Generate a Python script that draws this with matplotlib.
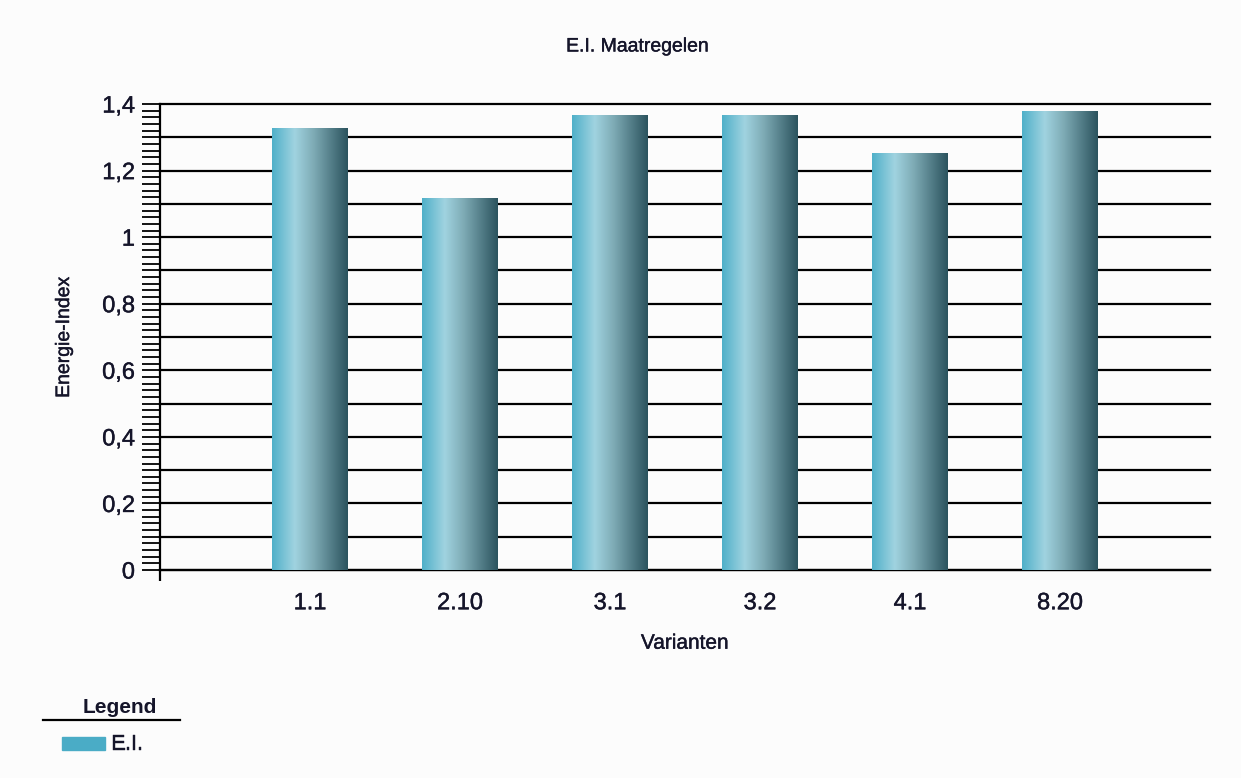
import numpy as np
import matplotlib.pyplot as plt
import matplotlib.patheffects as pe
from matplotlib.colors import LinearSegmentedColormap
from matplotlib.ticker import MultipleLocator, FuncFormatter
from matplotlib.lines import Line2D
from matplotlib.patches import Rectangle

plt.rcParams['font.family'] = ['Liberation Sans', 'DejaVu Sans']

varianten = ["1.1", "2.10", "3.1", "3.2", "4.1", "8.20"]
energie_index = [1.325, 1.115, 1.365, 1.365, 1.25, 1.378]

BG = "#fcfcfc"
TXT = "#15152a"
heavy = [pe.withStroke(linewidth=0.3, foreground=TXT)]
bar_cmap = LinearSegmentedColormap.from_list(
    "cyl", [(0.0, "#4fb0c9"), (0.3, "#a0d3e0"), (0.55, "#7eabb5"), (1.0, "#2b535e")]
)

fig = plt.figure(figsize=(12.41, 7.78), dpi=100, facecolor=BG)
ax = fig.add_axes([0.1289, 0.2673, 0.975 - 0.1289, 0.8663 - 0.2673], facecolor=BG)

x = np.arange(1, len(varianten) + 1)

# horizontal grid every 0.1
for y in np.arange(0, 1.41, 0.1):
    ax.axhline(y, color="black", lw=1.6, zorder=0.5, clip_on=False)

bars = ax.bar(x, energie_index, width=0.5, color="none", edgecolor="none", zorder=2)
grad = np.linspace(0, 1, 256).reshape(1, -1)
for b in bars:
    x0, w, h = b.get_x(), b.get_width(), b.get_height()
    ax.imshow(grad, cmap=bar_cmap, extent=(x0, x0 + w, 0, h),
              aspect="auto", zorder=3, interpolation="bilinear")
ax.set_xlim(0, len(varianten) + 1)
ax.set_ylim(0, 1.4)

for side in ["top", "right"]:
    ax.spines[side].set_visible(False)
ax.spines["left"].set_linewidth(1.6)
ax.spines["bottom"].set_linewidth(1.6)

ax.set_xticks(x)
ax.set_xticklabels(varianten)
ax.set_xticks([0], minor=True)
ax.tick_params(axis="x", which="major", length=0, pad=16, labelsize=17, labelcolor=TXT)
ax.tick_params(axis="x", which="minor", length=8, width=1.6, direction="out")

ax.yaxis.set_major_locator(MultipleLocator(0.2))
ax.yaxis.set_minor_locator(MultipleLocator(0.02))
ax.yaxis.set_major_formatter(FuncFormatter(lambda v, p: f"{v:g}".replace(".", ",")))
ax.tick_params(axis="y", which="both", length=13, width=1.3, direction="out",
               labelsize=17, labelcolor=TXT, pad=5)

for lbl in ax.get_xticklabels() + ax.get_yticklabels():
    lbl.set_path_effects(heavy)

fig.text(0.514, 0.9396, "E.I. Maatregelen", ha="center", va="center", fontsize=14,
         color=TXT, path_effects=heavy)
ax.set_xlabel("Varianten", fontsize=15, color=TXT, labelpad=14, path_effects=heavy)
fig.text(0.052, 0.567, "Energie-Index", ha="center", va="center", rotation=90,
         fontsize=14, color=TXT, path_effects=heavy)

# legend block in the lower-left corner
fig.text(0.0967, 0.09, "Legend", ha="center", va="center", fontsize=15,
         fontweight="bold", color=TXT)
fig.add_artist(Line2D([0.0346, 0.145], [0.0746, 0.0746], color="black", lw=1.6))
fig.add_artist(Rectangle((0.05, 0.036), 0.0347, 0.0167, color="#4aacc6",
                         transform=fig.transFigure))
fig.text(0.09, 0.0437, "E.I.", ha="left", va="center", fontsize=15,
         color=TXT, path_effects=heavy)

fig.savefig("out.png", dpi=100, facecolor=BG)
